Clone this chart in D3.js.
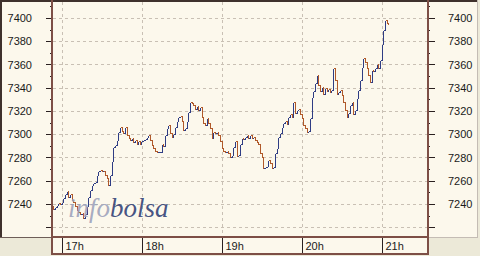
<!DOCTYPE html>
<html>
<head>
<meta charset="utf-8">
<script src="https://cdn.jsdelivr.net/npm/d3@7"></script>
<style>
  body { margin: 0; background: #ece9d8; }
  svg { display: block; }
  .lbl text { font-family: "Liberation Sans", Arial, sans-serif; font-size: 11px; fill: #1a1a1a; }
</style>
</head>
<body>
<div id="chart"></div>
<script>
// intraday index, minutes after 17:00 and price
const minutes = [-7.5, -6.4, -5.25, -4, -3, -1.5, -0.2, 0.75, 2.25, 3.5, 4.5, 6, 7.3, 8.25, 9.75, 11, 12, 13.5, 14.8, 15.75,
  17.25, 18.5, 19.5, 21, 22.3, 23.25, 24.75, 26, 27, 28.5, 29.8, 30.75, 32.25, 33.5, 34.5, 36, 37.3, 38.25, 39.75, 41,
  42, 43.5, 45, 45.75, 47.25, 48.75, 49.9, 51, 52.5, 53.25, 54.75, 56.25, 57, 58.5, 59.6, 60.75, 62.25, 63.75, 64.5, 66,
  67.5, 68.25, 69.75, 71.25, 72, 73.5, 75, 75.75, 77.25, 78.75, 79.5, 81, 82.5, 83.25, 84.75, 86, 87, 88.5, 89.8, 91,
  92.25, 93.5, 94.5, 96, 97.3, 98.25, 99.75, 101, 102, 103.5, 104.8, 105.75, 107.25, 108.5, 109.5, 111, 112.3, 113.25, 114.75, 116,
  117, 118.5, 119.8, 120.75, 122.25, 123.5, 124.5, 126, 127.3, 128.25, 129.75, 131, 132, 133.5, 134.8, 135.75, 137.25, 138.5, 139.5, 141,
  142.3, 143.25, 144.75, 146, 147, 148.5, 149.8, 150.75, 152.25, 153.5, 154.5, 156, 157.3, 158.25, 159.75, 161, 162, 163.5, 164.8, 165.75,
  167.25, 168.5, 169.5, 171, 172.3, 173.25, 174.75, 176, 177, 178.5, 179.8, 180.75, 182.25, 183.5, 184.5, 186, 187.3, 188.25, 189.75, 191,
  192, 193.5, 194.8, 195.75, 197.25, 198.5, 199.5, 201, 202.1, 203.25, 204.75, 206, 207, 208.5, 209.8, 210.75, 212.25, 213.5, 214.5, 216,
  217.3, 218.25, 219.75, 221, 222, 223.5, 224.8, 225.75, 227.25, 228.5, 229.5, 231, 232.3, 233.25, 234.75, 236, 237, 238.5, 239.8, 240.75,
  241.9, 243.4, 244.5];
const prices = [7238, 7236, 7237, 7239, 7241, 7240, 7242, 7245, 7249, 7251, 7246, 7249, 7243, 7242, 7238, 7235, 7233, 7231, 7232, 7228,
  7231, 7238, 7246, 7252, 7256, 7258, 7259, 7265, 7268, 7269, 7268, 7268, 7265, 7262, 7256, 7265, 7277, 7289, 7291, 7295,
  7302, 7306, 7303, 7301, 7306, 7299, 7297, 7295, 7297, 7293, 7295, 7292, 7294, 7292, 7294, 7295, 7296, 7298, 7299, 7295,
  7291, 7288, 7286, 7285, 7285, 7285, 7292, 7290, 7299, 7305, 7308, 7301, 7298, 7300, 7306, 7311, 7315, 7316, 7311, 7304,
  7305, 7311, 7319, 7328, 7327, 7325, 7322, 7324, 7321, 7323, 7315, 7310, 7308, 7314, 7310, 7305, 7297, 7302, 7301, 7302,
  7299, 7294, 7288, 7286, 7285, 7286, 7284, 7280, 7282, 7289, 7294, 7281, 7282, 7292, 7297, 7296, 7298, 7299, 7297, 7299,
  7297, 7298, 7295, 7293, 7292, 7284, 7280, 7271, 7272, 7273, 7278, 7275, 7271, 7272, 7284, 7288, 7298, 7301, 7306, 7310,
  7311, 7309, 7315, 7317, 7315, 7328, 7318, 7321, 7322, 7317, 7314, 7308, 7305, 7302, 7303, 7314, 7332, 7337, 7344, 7351,
  7342, 7337, 7341, 7335, 7340, 7337, 7339, 7336, 7338, 7357, 7347, 7335, 7336, 7338, 7334, 7328, 7321, 7315, 7318, 7325,
  7328, 7317, 7321, 7331, 7338, 7347, 7358, 7366, 7362, 7357, 7351, 7345, 7355, 7354, 7357, 7360, 7357, 7364, 7378, 7390,
  7398, 7396, 7395];

const yMajor = [7220, 7240, 7260, 7280, 7300, 7320, 7340, 7360, 7380, 7400];
const yLabeled = [7240, 7260, 7280, 7300, 7320, 7340, 7360, 7380, 7400];
const yMinor = [7230, 7250, 7270, 7290, 7310, 7330, 7350, 7370, 7390, 7410];

const width = 480, height = 256;
const plotLeft = 52, plotRight = 428, plotTop = 1, plotBottom = 237;
const upColor = "#2f3d84", downColor = "#b0592a";

const base = new Date(2000, 0, 1, 17, 0);
const toDate = m => new Date(base.getTime() + m * 60000);

const svg = d3.select("#chart").append("svg")
  .attr("width", width)
  .attr("height", height);

const x = d3.scaleTime()
  .domain([toDate(-7.5), toDate(274.5)])
  .range([plotLeft, plotRight]);

const y = d3.scaleLinear()
  .domain([7211.6, 7414.6])
  .range([plotBottom, plotTop]);

// panels
svg.append("rect").attr("x", 0).attr("y", 0).attr("width", 478).attr("height", 238).attr("fill", "#fcf8ec");
svg.append("rect").attr("x", plotLeft).attr("y", plotBottom).attr("width", plotRight - plotLeft).attr("height", 17).attr("fill", "#fcf8ec");

// grid
const grid = svg.append("g").attr("stroke", "#c9c0b4").attr("stroke-dasharray", "3,3").attr("shape-rendering", "crispEdges");
grid.selectAll(".h").data(yMajor).join("line")
  .attr("x1", plotLeft + 1).attr("x2", plotRight - 1)
  .attr("y1", d => Math.round(y(d)) + 0.5).attr("y2", d => Math.round(y(d)) + 0.5);
const hours = x.ticks(d3.timeHour.every(1));
grid.selectAll(".v").data(hours).join("line")
  .attr("x1", d => Math.round(x(d)) + 0.5).attr("x2", d => Math.round(x(d)) + 0.5)
  .attr("y1", plotTop + 1).attr("y2", plotBottom);

// price bars: horizontal step then vertical move, coloured by direction
const bars = svg.append("g").attr("fill", "none").attr("shape-rendering", "crispEdges");
for (let i = 1; i < prices.length; i++) {
  const x0 = Math.round(x(toDate(minutes[i - 1]))) + 0.5;
  const x1 = Math.round(x(toDate(minutes[i]))) + 0.5;
  const y0 = Math.round(y(prices[i - 1])) + 0.5;
  const y1 = Math.round(y(prices[i])) + 0.5;
  bars.append("path")
    .attr("d", `M${x0},${y0}H${x1}V${y1}`)
    .attr("stroke", prices[i] >= prices[i - 1] ? upColor : downColor);
}

// watermark
const wm = svg.append("text")
  .attr("x", 68).attr("y", 217)
  .style("font-family", "'Liberation Serif', 'Times New Roman', serif")
  .style("font-style", "italic")
  .style("font-size", "27px");
wm.append("tspan").attr("fill", "#9ca2bb").attr("fill-opacity", 0.9).text("info");
wm.append("tspan").attr("fill", "#3c4b7c").attr("fill-opacity", 0.95).text("bolsa");

// y axes
const fmt = d => yLabeled.includes(d) ? d : "";
svg.append("g").attr("class", "lbl").attr("transform", `translate(${plotLeft},0)`)
  .call(d3.axisLeft(y).tickValues(yMajor).tickSize(6).tickPadding(14).tickFormat(fmt));
svg.append("g").attr("transform", `translate(${plotLeft},0)`)
  .call(d3.axisLeft(y).tickValues(yMinor).tickSize(2).tickFormat(""));
svg.append("g").attr("class", "lbl").attr("transform", `translate(${plotRight},0)`)
  .call(d3.axisRight(y).tickValues(yMajor).tickSize(7).tickPadding(13).tickFormat(fmt));
svg.append("g").attr("transform", `translate(${plotRight},0)`)
  .call(d3.axisRight(y).tickValues(yMinor).tickSize(2).tickFormat(""));

// x axis strip
const xa = svg.append("g").attr("class", "lbl").attr("transform", `translate(0,${plotBottom})`)
  .call(d3.axisBottom(x).ticks(d3.timeHour.every(1)).tickSize(17).tickFormat(d3.timeFormat("%Hh")));
xa.selectAll("text").attr("text-anchor", "start").attr("x", 3).attr("y", 13).attr("dy", 0);

svg.selectAll(".domain").remove();
svg.selectAll(".tick line").attr("stroke", "#2a2020").attr("shape-rendering", "crispEdges");

// frame lines
const frame = svg.append("g").attr("shape-rendering", "crispEdges");
frame.append("line").attr("x1", 0).attr("x2", 478).attr("y1", 1).attr("y2", 1).attr("stroke", "#3f312c").attr("stroke-width", 2);
frame.append("line").attr("x1", 1).attr("x2", 1).attr("y1", 0).attr("y2", 238).attr("stroke", "#3f312c").attr("stroke-width", 2);
frame.append("line").attr("x1", 477.5).attr("x2", 477.5).attr("y1", 0).attr("y2", 238).attr("stroke", "#c4bcb4");
frame.append("line").attr("x1", 0).attr("x2", plotLeft).attr("y1", 237.5).attr("y2", 237.5).attr("stroke", "#6e5e58");
frame.append("line").attr("x1", plotRight).attr("x2", 478).attr("y1", 237.5).attr("y2", 237.5).attr("stroke", "#c4bcb4");
frame.append("line").attr("x1", plotLeft).attr("x2", plotLeft).attr("y1", 0).attr("y2", 255).attr("stroke", "#7d4f46").attr("stroke-width", 2);
frame.append("line").attr("x1", plotRight).attr("x2", plotRight).attr("y1", 0).attr("y2", 255).attr("stroke", "#7d4f46").attr("stroke-width", 2);
frame.append("line").attr("x1", plotLeft).attr("x2", plotRight).attr("y1", plotBottom).attr("y2", plotBottom).attr("stroke", "#7d4f46").attr("stroke-width", 2);
frame.append("line").attr("x1", plotLeft).attr("x2", plotRight).attr("y1", 254).attr("y2", 254).attr("stroke", "#7d4f46").attr("stroke-width", 2);
</script>
</body>
</html>
